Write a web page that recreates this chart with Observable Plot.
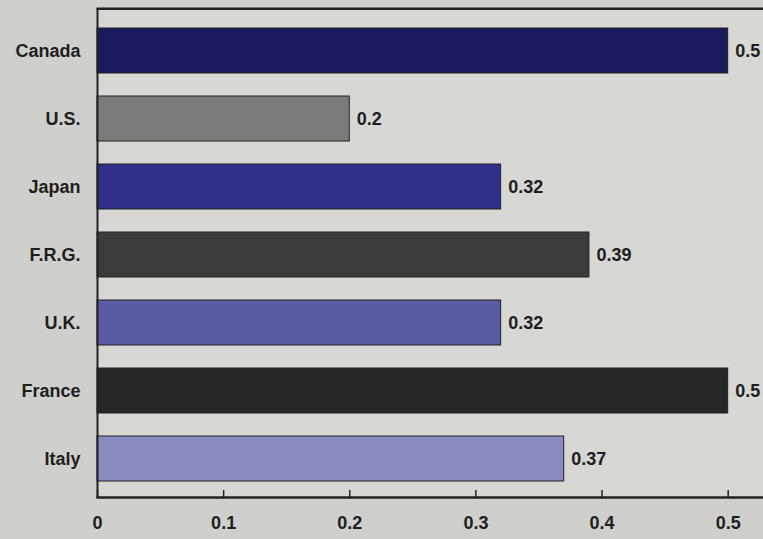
<!DOCTYPE html>
<html>
<head>
<meta charset="utf-8">
<script src="https://cdn.jsdelivr.net/npm/d3@7"></script>
<script src="https://cdn.jsdelivr.net/npm/@observablehq/plot@0.6"></script>
<style>
  html, body { margin: 0; padding: 0; background: #cfcfcb; overflow: hidden; }
  #chart svg { display: block; overflow: hidden; font-family: "Liberation Sans", Arial, sans-serif; }
</style>
</head>
<body>
<div id="chart"></div>
<script>
const countries = ["Canada", "U.S.", "Japan", "F.R.G.", "U.K.", "France", "Italy"];
const values = [0.5, 0.2, 0.32, 0.39, 0.32, 0.5, 0.37];
const colors = ["#1b1a5c", "#7b7b7b", "#2f2e88", "#3b3b3b", "#5b5ba3", "#262624", "#8a8bc2"];
const xTicks = [0, 0.1, 0.2, 0.3, 0.4, 0.5];
const topEdge = [{x1: 0, x2: 0.528, y: "Canada"}];

const data = countries.map((c, i) => ({country: c, value: values[i], color: colors[i]}));

const chart = Plot.plot({
  width: 763,
  height: 539,
  marginLeft: 97,
  marginRight: 0,
  marginTop: 8,
  marginBottom: 42,
  style: {background: "transparent", fontSize: "18px", fontWeight: "bold", color: "#1e1e1e"},
  x: {domain: [0, 0.528], ticks: xTicks, label: null},
  y: {domain: countries, paddingInner: 0.34, paddingOuter: 0.22, insetTop: 4, label: null},
  marks: [
    Plot.frame({fill: "#d7d7d4", stroke: null}),
    Plot.barX(data, {x: "value", y: "country", fill: "color", stroke: "#222", strokeWidth: 1}),
    Plot.text(data, {x: "value", y: "country", text: d => String(d.value), textAnchor: "start", dx: 7, fill: "#1e1e1e", fontWeight: "bold", fontSize: 18}),
    Plot.axisY({tickSize: 0, tickPadding: 17, fontWeight: "bold", fontSize: 18, fill: "#1e1e1e"}),
    Plot.axisX({ticks: xTicks, tickSize: 0, tickPadding: 19, fontWeight: "bold", fontSize: 18, fill: "#1e1e1e", tickFormat: d => String(d)}),
    Plot.ruleX(xTicks, {x: d => d, insetTop: 482, stroke: "#222", strokeWidth: 1.5}),
    Plot.ruleX([0], {x: d => d, stroke: "#222", strokeWidth: 2}),
    Plot.link(topEdge, {x1: "x1", x2: "x2", y1: "y", y2: "y", dy: -42, stroke: "#222", strokeWidth: 2}),
    Plot.frame({anchor: "top", stroke: "#222", strokeWidth: 2}),
    Plot.frame({anchor: "bottom", stroke: "#222", strokeWidth: 2.5})
  ]
});
document.getElementById("chart").appendChild(chart);
</script>
</body>
</html>
